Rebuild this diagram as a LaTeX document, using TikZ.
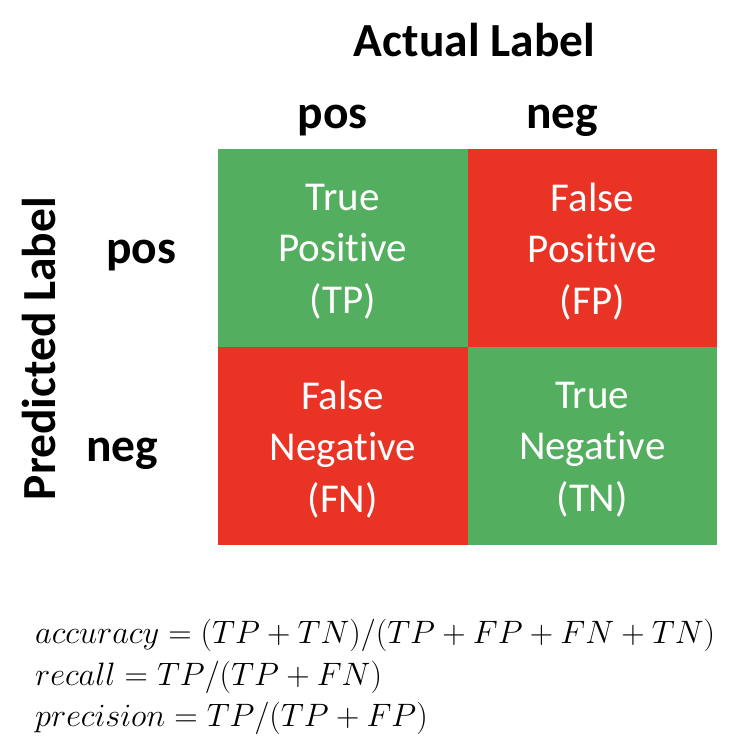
\documentclass[tikz,border=0pt]{standalone}
\usepackage{fix-cm}
\usepackage{amsmath}
\usepackage{fontspec}
\setmainfont{Carlito}[Ligatures=NoCommon]
\definecolor{cellgreen}{RGB}{84,174,95}
\definecolor{cellred}{RGB}{233,51,37}
\tikzset{
  cell/.style={draw=none, minimum width=249.5pt, minimum height=198pt, inner sep=0pt},
  good/.style={cell, fill=cellgreen},
  bad/.style={cell, fill=cellred},
  celltext/.style={text=white, align=center, inner sep=0pt, yshift=-3.5pt,
    font=\fontsize{41}{51.5}\selectfont},
  head/.style={font=\fontsize{47.5}{56}\selectfont\bfseries, inner sep=0pt, anchor=base},
  formula/.style={font=\fontsize{32.4}{40}\selectfont, inner sep=0pt, anchor=base west}
}
\begin{document}
\begin{tikzpicture}[x=1pt, y=-1pt]
  \useasboundingbox (0,0) rectangle (738,752);
  % confusion matrix cells
  \node[good] (tp) at (342.75,248) {};
  \node[bad]  (fp) at (592.25,248) {};
  \node[bad]  (fn) at (342.75,446) {};
  \node[good] (tn) at (592.25,446) {};
  \node[celltext] (tplabel) at (tp.center) {True\\Positive\\(TP)};
  \node[celltext] (fplabel) at (fp.center) {False\\Positive\\(FP)};
  \node[celltext] (fnlabel) at (fn.center) {False\\Negative\\(FN)};
  \node[celltext] (tnlabel) at (tn.center) {True\\Negative\\(TN)};
  % axis titles
  \node[head] (actual) at (474.5,57) {Actual Label};
  \node[head, rotate=90] (predicted) at (55,348.5) {Predicted Label};
  % class labels
  \node[head] (cpos) at (332.5,128) {pos};
  \node[head] (cneg) at (562,128) {neg};
  \node[head] (rpos) at (141,263) {pos};
  \node[head] (rneg) at (122,461) {neg};
  % metric definitions
  \node[formula] (acc) at (35,643) {$accuracy=(TP+TN)/(TP+FP+FN+TN)$};
  \node[formula] (rec) at (35,685) {$recall=TP/(TP+FN)$};
  \node[formula] (pre) at (35,726) {$precision=TP/(TP+FP)$};
\end{tikzpicture}
\end{document}
